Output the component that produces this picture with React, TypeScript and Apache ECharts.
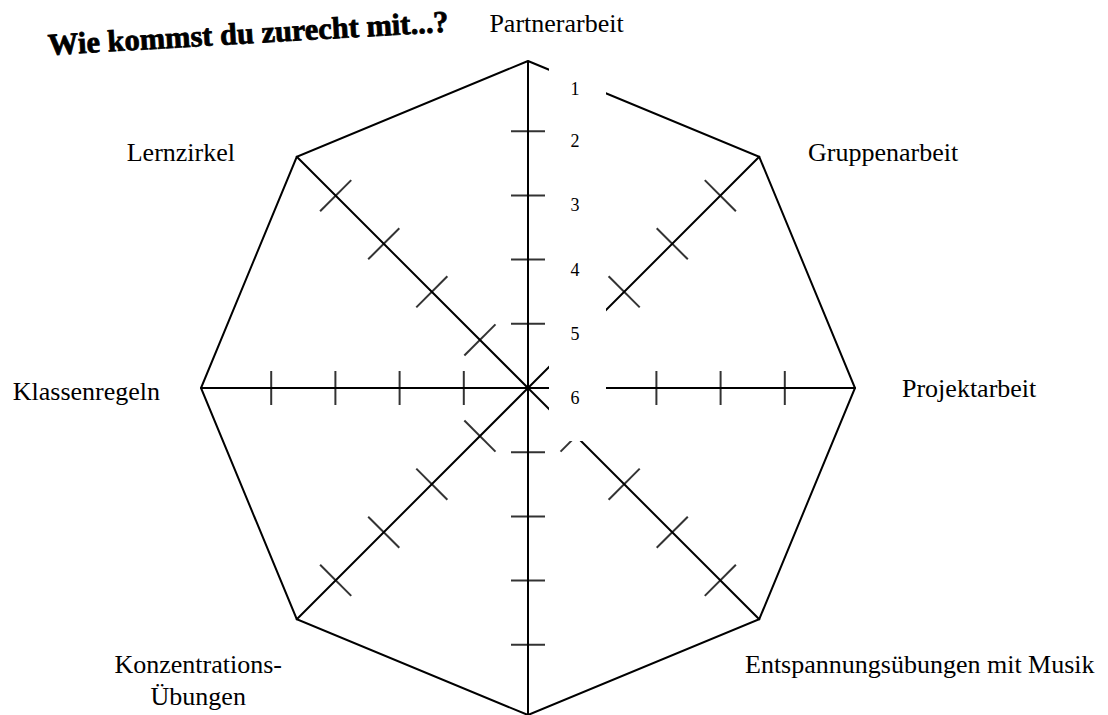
import React, { useEffect, useRef } from "react";
import * as echarts from "echarts";

// ---- data ----
const categories = [
  "Partnerarbeit",
  "Lernzirkel",
  "Klassenregeln",
  "Konzentrations-\nÜbungen",
  "",
  "Entspannungsübungen mit Musik",
  "Projektarbeit",
  "Gruppenarbeit",
];
const scaleMin = 1; // rim
const scaleMax = 6; // centre
const tickValues = [2, 3, 4, 5];
const titleText = "Wie kommst du zurecht mit...?";

// ---- layout (positions / styles only) ----
const CX = 528;
const CY = 388;
const R_OUT = 327;
const R_TICK = 321; // straight axes
const R_TICK_DIAG = 340; // diagonal axes (hand-drawn, spaced wider)
const NAME_SHIFT: [number, number][] = [
  [28.5, 2],
  [-42.7, 15.3],
  [-14, 3],
  [4.3, 41.7],
  [0, 0],
  [-33.3, 25.7],
  [20, 0],
  [29.7, 15.3],
];

export default function App() {
  const ref = useRef<HTMLDivElement>(null);
  useEffect(() => {
    if (!ref.current) return;
    const chart = echarts.init(ref.current, undefined, { renderer: "svg" });

    const rich: Record<string, any> = {};
    NAME_SHIFT.forEach(([dx, dy], i) => {
      rich["n" + i] = {
        fontFamily: "Liberation Serif",
        fontSize: 26,
        color: "#000",
        padding: [dy, -dx, -dy, dx],
        ...(i === 3 ? { lineHeight: 32, align: "center" } : {}),
      };
    });

    const straightTicks: any[] = [];
    const diagTicks: any[] = [];
    categories.forEach((_, i) => {
      const rot = (i * 360) / categories.length;
      tickValues.forEach((v) => {
        const item = { value: [v, i], symbolRotate: rot };
        if (i % 2 === 0) straightTicks.push(item);
        else diagTicks.push(item);
      });
    });

    const hiddenAngle = {
      type: "category",
      data: categories,
      startAngle: 90,
      clockwise: false,
      boundaryGap: false,
      axisLine: { show: false },
      axisTick: { show: false },
      axisLabel: { show: false },
      splitLine: { show: false },
    };

    chart.setOption({
      animation: false,
      radar: {
        center: [CX, CY],
        radius: R_OUT,
        startAngle: 90,
        shape: "polygon",
        splitNumber: 1,
        indicator: categories.map((name) => ({ name, min: 0, max: 5 })),
        axisNameGap: 27,
        axisName: {
          color: "#000",
          fontFamily: "Liberation Serif",
          fontSize: 26,
          formatter: (name: string) => {
            const i = categories.indexOf(name);
            return name ? `{n${i}|${name}}` : "";
          },
          rich,
        },
        axisLine: { lineStyle: { color: "#000", width: 2 } },
        splitLine: { lineStyle: { color: "#000", width: 2 } },
        splitArea: { show: false },
        axisTick: { show: false },
        axisLabel: { show: false },
      },
      polar: [
        { center: [CX, CY], radius: R_TICK },
        { center: [CX, CY], radius: R_TICK_DIAG },
      ],
      angleAxis: [
        { ...hiddenAngle, polarIndex: 0 },
        { ...hiddenAngle, polarIndex: 1 },
      ],
      radiusAxis: [
        {
          polarIndex: 0,
          type: "value",
          min: scaleMin,
          max: scaleMax,
          interval: 1,
          inverse: true,
          z: 60,
          axisLine: { show: false },
          axisTick: { show: false },
          splitLine: { show: false },
          axisLabel: {
            margin: -51.5,
            color: "#000",
            fontFamily: "Liberation Serif",
            fontSize: 18,
            formatter: (v: number) => (v === scaleMin ? `{r|${v}}` : `{m|${v}}`),
            rich: {
              r: { fontFamily: "Liberation Serif", fontSize: 18, color: "#000", padding: [22, 0, -22, 0] },
              m: { fontFamily: "Liberation Serif", fontSize: 18, color: "#000", padding: [10, 0, -10, 0] },
            },
          },
        },
        {
          polarIndex: 1,
          type: "value",
          min: scaleMin,
          max: scaleMax,
          interval: 1,
          inverse: true,
          axisLine: { show: false },
          axisTick: { show: false },
          splitLine: { show: false },
          axisLabel: { show: false },
        },
      ],
      series: [
        {
          type: "scatter",
          coordinateSystem: "polar",
          polarIndex: 0,
          symbol: "rect",
          symbolSize: [34, 2],
          itemStyle: { color: "#000" },
          silent: true,
          data: straightTicks,
        },
        {
          type: "scatter",
          coordinateSystem: "polar",
          polarIndex: 1,
          symbol: "rect",
          symbolSize: [44, 2],
          itemStyle: { color: "#000" },
          silent: true,
          data: diagTicks,
        },
      ],
      graphic: [
        {
          type: "rect",
          z: 50,
          shape: { x: 549, y: 56, width: 57, height: 385 },
          style: { fill: "#fff" },
        },
        {
          type: "text",
          z: 50,
          x: 48,
          y: 45,
          rotation: 0.058,
          style: {
            text: titleText,
            fontFamily: "Liberation Serif",
            fontWeight: "bold",
            fontSize: 30.5,
            fill: "#000",
            stroke: "#000",
            lineWidth: 0.8,
            align: "left",
            verticalAlign: "middle",
          },
        },
      ],
    });
    return () => chart.dispose();
  }, []);
  return (
    <div
      ref={ref}
      style={{ position: "fixed", left: 0, top: 0, width: 1108, height: 715, background: "#fff" }}
    />
  );
}
